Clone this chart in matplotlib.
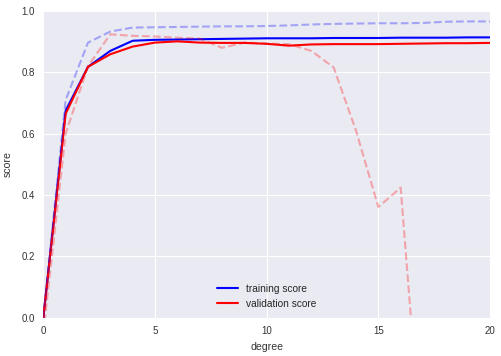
import numpy as np
import matplotlib
matplotlib.use("Agg")
import matplotlib.pyplot as plt

degree = np.arange(0, 21)

train_score = [0.0, 0.675, 0.818, 0.870, 0.903, 0.906, 0.907, 0.908, 0.909, 0.910,
               0.911, 0.911, 0.911, 0.912, 0.912, 0.912, 0.913, 0.913, 0.913, 0.914, 0.914]
val_score = [0.0, 0.665, 0.818, 0.859, 0.884, 0.897, 0.901, 0.897, 0.896, 0.896,
             0.893, 0.887, 0.891, 0.892, 0.892, 0.892, 0.893, 0.894, 0.895, 0.895, 0.896]

# smaller dataset (dashed)
train_small = [0.0, 0.71, 0.897, 0.933, 0.946, 0.947, 0.948, 0.949, 0.950, 0.950,
               0.951, 0.953, 0.956, 0.958, 0.959, 0.960, 0.960, 0.961, 0.965, 0.966, 0.966]
val_small = [-0.05, 0.60, 0.82, 0.924, 0.919, 0.917, 0.913, 0.910, 0.880, 0.897,
             0.894, 0.892, 0.870, 0.816, 0.61, 0.361, 0.424, -0.5, -3.0, -8.0, -20.0]

plt.style.use("seaborn-v0_8-darkgrid")
plt.rcParams['font.family'] = ['Liberation Sans', 'DejaVu Sans']

fig = plt.figure(figsize=(5.02, 3.56), dpi=100)
ax = fig.add_axes([0.0863, 0.1076, 0.8898, 0.8615])

ax.plot(degree, train_score, color='blue', lw=1.5, label='training score')
ax.plot(degree, val_score, color='red', lw=1.5, label='validation score')
ax.plot(degree, train_small, color='blue', lw=1.5, alpha=0.3, linestyle='dashed')
ax.plot(degree, val_small, color='red', lw=1.5, alpha=0.3, linestyle='dashed')

ax.set_xlim(0, 20)
ax.set_ylim(0, 1)
ax.set_xticks([0, 5, 10, 15, 20])
ax.set_yticks([0.0, 0.2, 0.4, 0.6, 0.8, 1.0])
ax.tick_params(length=0, labelsize=7, colors='#333333', pad=6)
ax.set_xlabel('degree', fontsize=7.6, color='#333333', labelpad=4)
ax.set_ylabel('score', fontsize=7.6, color='#333333', labelpad=6)
ax.legend(loc='lower center', fontsize=7.25, frameon=False)

fig.savefig("out.png", dpi=100)
